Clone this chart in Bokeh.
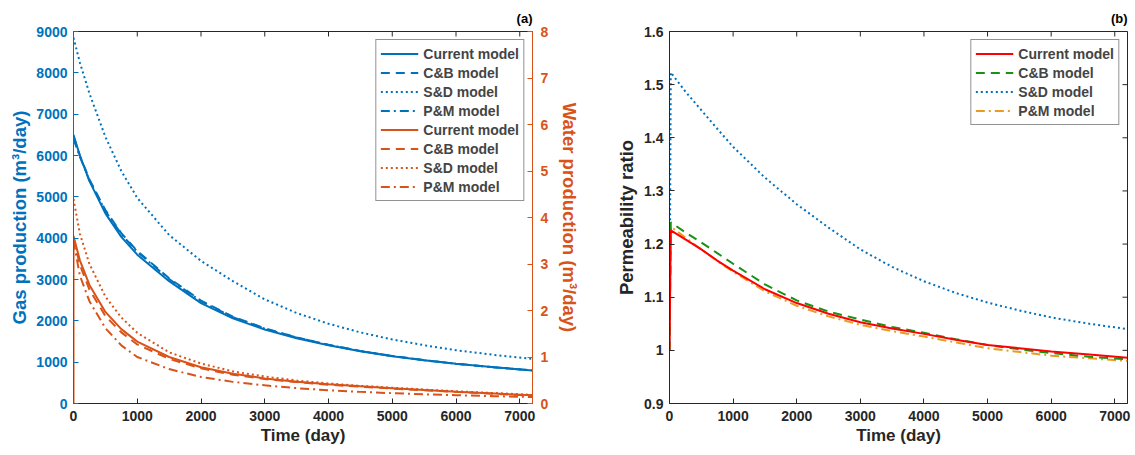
import math
from bokeh.plotting import figure
from bokeh.models import Range1d, LinearAxis, FixedTicker, Legend, LegendItem, CustomJSTickFormatter
from bokeh.layouts import row
from bokeh.embed import file_html
from bokeh.resources import INLINE

# ---------------- data (a) ----------------
t_a = [0, 100, 250, 500, 750, 1000, 1500, 2000, 2500, 3000, 3500, 4000, 4500, 5000, 5500, 6000, 6600, 7200]
gas_current = [6500, 6000, 5380, 4600, 4030, 3600, 2960, 2430, 2060, 1790, 1580, 1410, 1265, 1145, 1045, 960, 875, 800]
gas_cb = [6450, 6000, 5420, 4680, 4120, 3690, 3030, 2490, 2100, 1820, 1600, 1420, 1272, 1150, 1048, 962, 876, 800]
gas_sd = [8850, 8250, 7500, 6450, 5625, 4975, 4075, 3450, 2960, 2520, 2190, 1930, 1720, 1550, 1410, 1290, 1175, 1080]
gas_pm = [6400, 5970, 5400, 4660, 4100, 3670, 3010, 2475, 2090, 1812, 1595, 1418, 1270, 1148, 1047, 961, 875, 800]

t_w = [0, 0, 100, 250, 500, 750, 1000, 1500, 2000, 2500, 3000, 3500, 4000, 4500, 5000, 5500, 6000, 6600, 7200]
water_current = [0, 3.6, 3.08, 2.55, 1.97, 1.6, 1.33, 1.0, 0.78, 0.64, 0.54, 0.47, 0.415, 0.37, 0.33, 0.29, 0.255, 0.215, 0.175]
water_cb = [3.55, 3.55, 2.98, 2.45, 1.88, 1.53, 1.27, 0.96, 0.755, 0.62, 0.525, 0.46, 0.405, 0.36, 0.32, 0.285, 0.25, 0.21, 0.17]
water_sd = [4.4, 4.4, 3.65, 3.0, 2.3, 1.85, 1.52, 1.1, 0.86, 0.69, 0.58, 0.495, 0.43, 0.38, 0.34, 0.3, 0.265, 0.225, 0.185]
water_pm = [3.5, 3.5, 2.75, 2.2, 1.62, 1.25, 1.0, 0.74, 0.57, 0.465, 0.39, 0.33, 0.285, 0.25, 0.222, 0.198, 0.178, 0.158, 0.14]

# ---------------- data (b) ----------------
t_b = [0, 20, 250, 500, 750, 1000, 1500, 2000, 2500, 3000, 3500, 4000, 4500, 5000, 5500, 6000, 6600, 7200]
perm_current = [1.0, 1.2256, 1.209, 1.19, 1.169, 1.150, 1.115, 1.089, 1.069, 1.053, 1.041, 1.031, 1.020, 1.010, 1.004, 0.998, 0.992, 0.986]
perm_cb = [1.0, 1.241, 1.222, 1.203, 1.183, 1.163, 1.124, 1.094, 1.073, 1.058, 1.044, 1.033, 1.021, 1.010, 1.002, 0.995, 0.988, 0.983]
perm_sd = [1.0, 1.523, 1.487, 1.452, 1.417, 1.383, 1.325, 1.275, 1.231, 1.190, 1.157, 1.130, 1.108, 1.090, 1.075, 1.062, 1.050, 1.040]
perm_pm = [1.0, 1.233, 1.212, 1.19, 1.168, 1.148, 1.111, 1.084, 1.064, 1.048, 1.036, 1.026, 1.015, 1.004, 0.997, 0.990, 0.985, 0.980]

labels = ["Current model", "C&B model", "S&D model", "P&M model"]
x_ticks = [0, 1000, 2000, 3000, 4000, 5000, 6000, 7000]
gas_ticks = [0, 1000, 2000, 3000, 4000, 5000, 6000, 7000, 8000, 9000]
water_ticks = [0, 1, 2, 3, 4, 5, 6, 7, 8]
perm_ticks = [0.9, 1.0, 1.1, 1.2, 1.3, 1.4, 1.5, 1.6]

BLUE = "#0072BD"
ORANGE = "#D95319"
RED = "#FF0000"
GREEN = "#179217"
GOLD = "#EB9B22"
DARK = "#262626"
FONT = "Liberation Sans"
DASHES = ["solid", "9 6", "2 3", "9 4 2 4"]


def style_axis(ax, color, label_size="17px", tick_size="14px", tick_standoff=6, label_standoff=5):
    ax.axis_line_color = color
    ax.axis_line_width = 1
    ax.major_tick_line_color = color
    ax.major_tick_in = 5
    ax.major_tick_out = 0
    ax.minor_tick_in = 0
    ax.minor_tick_out = 0
    ax.major_label_text_color = color
    ax.major_label_text_font = FONT
    ax.major_label_text_font_style = "bold"
    ax.major_label_text_font_size = tick_size
    ax.major_label_standoff = tick_standoff
    ax.axis_label_text_color = color
    ax.axis_label_text_font = FONT
    ax.axis_label_text_font_style = "bold"
    ax.axis_label_text_font_size = label_size
    ax.axis_label_standoff = label_standoff


def make_legend(items):
    lg = Legend(items=items, location="top_right")
    lg.label_text_font = FONT
    lg.label_text_font_style = "bold"
    lg.label_text_font_size = "14px"
    lg.glyph_width = 38
    lg.glyph_height = 19
    lg.label_height = 19
    lg.spacing = 0
    lg.padding = 4
    lg.margin = 8
    lg.label_standoff = 5
    lg.border_line_color = DARK
    lg.border_line_width = 1
    lg.background_fill_alpha = 1
    return lg


def style_title(p, text):
    p.title.text = text
    p.title.align = "right"
    p.title.vertical_align = "middle"
    p.title.text_font = FONT
    p.title.text_font_style = "bold"
    p.title.text_font_size = "13px"
    p.title.text_color = "black"


# ---------------- figure (a) ----------------
p1 = figure(width=590, height=453, x_range=Range1d(0, 7200), y_range=Range1d(0, 9000),
            output_backend="svg", toolbar_location=None,
            min_border_left=73, min_border_right=58, min_border_top=31, min_border_bottom=50)
style_title(p1, "(a)")
p1.extra_y_ranges = {"water": Range1d(0, 8)}
p1.grid.visible = False
p1.outline_line_color = DARK
p1.xaxis.ticker = FixedTicker(ticks=x_ticks)
p1.xaxis.axis_label = "Time (day)"
style_axis(p1.xaxis[0], DARK, tick_standoff=7, label_standoff=2)
p1.yaxis.ticker = FixedTicker(ticks=gas_ticks)
p1.yaxis.axis_label = "Gas production (m³/day)"
style_axis(p1.yaxis[0], BLUE, label_size="18.5px", tick_standoff=6, label_standoff=3)

wax = LinearAxis(y_range_name="water", ticker=FixedTicker(ticks=water_ticks),
                 axis_label="Water production (m³/day)")
style_axis(wax, ORANGE, label_size="18.5px", tick_standoff=8, label_standoff=8)
p1.add_layout(wax, "right")

# top box ticks (clipped half of a centred dash marker)
p1.scatter(x=x_ticks, y=[p1.y_range.end] * len(x_ticks), marker="dash", angle=math.pi / 2,
           size=10, line_color=DARK, line_width=1)

items1 = []
for lab, ys, d in zip(labels, [gas_current, gas_cb, gas_sd, gas_pm], DASHES):
    r = p1.line(t_a, ys, line_color=BLUE, line_width=2, line_dash=d)
    items1.append(LegendItem(label=lab, renderers=[r]))
for lab, ys, d in zip(labels, [water_current, water_cb, water_sd, water_pm], DASHES):
    r = p1.line(t_w, ys, line_color=ORANGE, line_width=2, line_dash=d, y_range_name="water")
    items1.append(LegendItem(label=lab, renderers=[r]))
p1.add_layout(make_legend(items1))

# ---------------- figure (b) ----------------
p2 = figure(width=543, height=453, x_range=Range1d(0, 7200), y_range=Range1d(0.9, 1.6),
            output_backend="svg", toolbar_location=None,
            min_border_left=79, min_border_right=6, min_border_top=31, min_border_bottom=50)
style_title(p2, "(b)")
p2.grid.visible = False
p2.outline_line_color = DARK
p2.xaxis.ticker = FixedTicker(ticks=x_ticks)
p2.xaxis.axis_label = "Time (day)"
style_axis(p2.xaxis[0], DARK, tick_standoff=7, label_standoff=2)
p2.yaxis.ticker = FixedTicker(ticks=perm_ticks)
p2.yaxis.formatter = CustomJSTickFormatter(code="return (Math.round(tick*10)/10).toString();")
p2.yaxis.axis_label = "Permeability ratio"
style_axis(p2.yaxis[0], DARK, label_size="18.5px", tick_standoff=6, label_standoff=4)

p2.scatter(x=x_ticks, y=[p2.y_range.end] * len(x_ticks), marker="dash", angle=math.pi / 2,
           size=10, line_color=DARK, line_width=1)
p2.scatter(x=[p2.x_range.end] * len(perm_ticks), y=perm_ticks, marker="dash",
           size=10, line_color=DARK, line_width=1)

rend2 = {}
for lab, ys, c, d in zip(labels, [perm_current, perm_cb, perm_sd, perm_pm],
                         [RED, GREEN, BLUE, GOLD], DASHES):
    rend2[lab] = (ys, c, d)
# draw order: S&D, P&M, C&B, Current on top
drawn = {}
for lab in ["S&D model", "P&M model", "C&B model", "Current model"]:
    ys, c, d = rend2[lab]
    drawn[lab] = p2.line(t_b, ys, line_color=c, line_width=2, line_dash=d)
p2.add_layout(make_legend([LegendItem(label=l, renderers=[drawn[l]]) for l in labels]))

layout = row(p1, p2)
open("out.html", "w").write(file_html(layout, INLINE))
